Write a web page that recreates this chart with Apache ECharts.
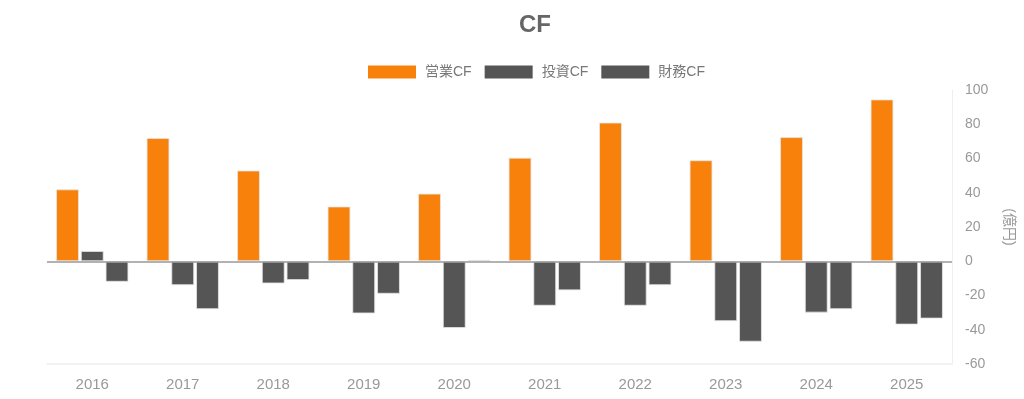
<!DOCTYPE html>
<html>
<head>
<meta charset="utf-8">
<script src="https://cdn.jsdelivr.net/npm/echarts@6/dist/echarts.min.js"></script>
<style>
  html, body { margin: 0; padding: 0; background: #fff; }
  #chart { width: 1024px; height: 399px; }
</style>
</head>
<body>
<div id="chart"></div>
<script>
var years = ['2016', '2017', '2018', '2019', '2020', '2021', '2022', '2023', '2024', '2025'];
var operatingCF = [42, 72, 53, 32, 39.5, 60.5, 81, 59, 72.5, 94.5];
var investingCF = [6, -14, -13, -30.5, -39, -26, -26, -35, -30, -37];
var financingCF = [-12, -28, -11, -19, 0.8, -17, -14, -47, -28, -33.5];
var yTicks = { min: -60, max: 100, interval: 20 };

var chart = echarts.init(document.getElementById('chart'), null, { renderer: 'canvas' });
var font = 'Liberation Sans, Arial, "Noto Sans CJK JP", sans-serif';

function barSeries(name, data, color) {
  return {
    name: name,
    type: 'bar',
    data: data,
    barGap: '8%',
    barCategoryGap: '20%',
    itemStyle: { color: color, borderColor: 'rgba(230,230,230,0.8)', borderWidth: 1 }
  };
}

var series = [
  barSeries('営業CF', operatingCF, '#f7810a'),
  barSeries('投資CF', investingCF, '#555555'),
  barSeries('財務CF', financingCF, '#555555')
];
// zero line
series[0].markLine = {
  silent: true,
  symbol: 'none',
  label: { show: false },
  lineStyle: { color: '#999', type: 'solid', width: 1.5 },
  data: [{ yAxis: 0 }]
};

var option = {
  animation: false,
  textStyle: { fontFamily: font },
  title: {
    text: 'CF',
    left: 519,
    top: 13,
    padding: 0,
    textStyle: { color: '#666', fontSize: 24, fontWeight: 'bold', fontFamily: font }
  },
  legend: {
    top: 65,
    left: 368,
    padding: 0,
    itemWidth: 48,
    itemHeight: 13,
    itemGap: 13,
    icon: 'rect',
    itemStyle: { borderWidth: 0 },
    textStyle: { color: '#777', fontSize: 14, fontFamily: font, padding: [0, 0, 0, 4] }
  },
  grid: { left: 47, right: 69, top: 90, bottom: 35 },
  xAxis: {
    type: 'category',
    data: years,
    axisLine: { onZero: false, lineStyle: { color: '#eee', width: 1.5 } },
    axisTick: { show: false },
    axisLabel: { color: '#999', fontSize: 15, margin: 13 }
  },
  yAxis: {
    type: 'value',
    position: 'right',
    min: yTicks.min,
    max: yTicks.max,
    interval: yTicks.interval,
    name: '(億円)',
    nameLocation: 'middle',
    nameRotate: -90,
    nameGap: 50,
    nameTextStyle: { color: '#999', fontSize: 14 },
    axisLine: { show: true, lineStyle: { color: '#eee', width: 1 } },
    axisTick: { show: false },
    splitLine: { show: false },
    axisLabel: { color: '#999', fontSize: 14, margin: 13 }
  },
  series: series
};
chart.setOption(option);
</script>
</body>
</html>
